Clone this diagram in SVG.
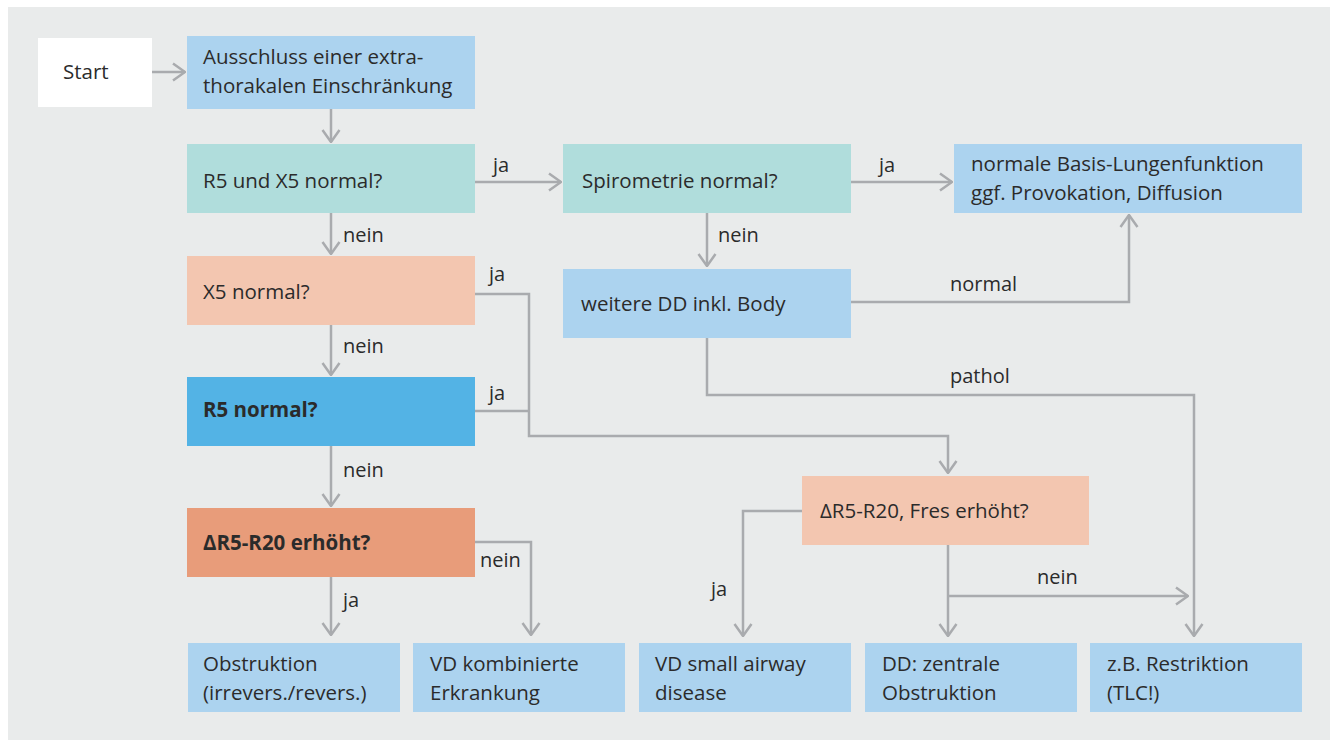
<svg xmlns="http://www.w3.org/2000/svg" width="1330" height="740" viewBox="0 0 1330 740">
<style>
text{font-family:"Open Sans","Noto Sans","Liberation Sans",sans-serif;font-size:20.5px;fill:#2b2b2b}
.lbl{font-size:20px}
.b{font-weight:bold}
.c{fill:none;stroke:#a9abae;stroke-width:2.5}
.blue{fill:#acd3ef}.teal{fill:#b0dddc}.peach{fill:#f3c6b0}.dblue{fill:#53b3e5}.salmon{fill:#e89c7a}.white{fill:#ffffff}
</style>
<defs>
<marker id="ah" markerUnits="userSpaceOnUse" viewBox="0 0 14 20" refX="13" refY="10" markerWidth="14" markerHeight="20" orient="auto">
<path d="M1,1.5 L13,10 L1,18.5" fill="none" stroke="#a9abae" stroke-width="2.5"/>
</marker>
</defs>
<rect x="0" y="0" width="1330" height="740" fill="#ffffff"/>
<rect x="8" y="7" width="1322" height="733" fill="#e9ebeb"/>

<g id="connectors">
<path class="c" d="M152,72 H185" marker-end="url(#ah)"/>
<path class="c" d="M331,109 V142" marker-end="url(#ah)"/>
<path class="c" d="M331,213 V254" marker-end="url(#ah)"/>
<path class="c" d="M331,325 V375" marker-end="url(#ah)"/>
<path class="c" d="M331,446 V506" marker-end="url(#ah)"/>
<path class="c" d="M331,577 V635" marker-end="url(#ah)"/>
<path class="c" d="M475,542 H531 V635" marker-end="url(#ah)"/>
<path class="c" d="M475,182 H561" marker-end="url(#ah)"/>
<path class="c" d="M851,182 H952" marker-end="url(#ah)"/>
<path class="c" d="M707,213 V266" marker-end="url(#ah)"/>
<path class="c" d="M851,302 H1129 V215" marker-end="url(#ah)"/>
<path class="c" d="M707,338 V395 H1194 V636" marker-end="url(#ah)"/>
<path class="c" d="M475,294 H529 V436 H948 V473" marker-end="url(#ah)"/>
<path class="c" d="M475,411 H529"/>
<path class="c" d="M802,511 H743 V636" marker-end="url(#ah)"/>
<path class="c" d="M948,545 V636" marker-end="url(#ah)"/>
<path class="c" d="M948,596 H1188" marker-end="url(#ah)"/>
<text class="lbl" x="493" y="172">ja</text>
<text class="lbl" x="879" y="172">ja</text>
<text class="lbl" x="343" y="242">nein</text>
<text class="lbl" x="718" y="242">nein</text>
<text class="lbl" x="489" y="281">ja</text>
<text class="lbl" x="950" y="291">normal</text>
<text class="lbl" x="343" y="353">nein</text>
<text class="lbl" x="950" y="383">pathol</text>
<text class="lbl" x="489" y="400">ja</text>
<text class="lbl" x="343" y="477">nein</text>
<text class="lbl" x="480" y="567">nein</text>
<text class="lbl" x="343" y="607">ja</text>
<text class="lbl" x="711" y="596">ja</text>
<text class="lbl" x="1037" y="584">nein</text>
</g>

<g id="start"><rect class="white" x="38" y="38" width="114" height="69"/><text x="63" y="79">Start</text></g>
<g id="ausschluss"><rect class="blue" x="187" y="36" width="288" height="73"/><text x="203" y="64">Ausschluss einer extra-</text><text x="203" y="93">thorakalen Einschränkung</text></g>
<g id="r5x5"><rect class="teal" x="187" y="144" width="288" height="69"/><text x="203" y="188">R5 und X5 normal?</text></g>
<g id="x5"><rect class="peach" x="187" y="256" width="288" height="69"/><text x="203" y="299">X5 normal?</text></g>
<g id="r5"><rect class="dblue" x="187" y="377" width="288" height="69"/><text class="b" x="203" y="417">R5 normal?</text></g>
<g id="dr5"><rect class="salmon" x="187" y="508" width="288" height="69"/><text class="b" x="203" y="550">ΔR5-R20 erhöht?</text></g>
<g id="spiro"><rect class="teal" x="563" y="144" width="288" height="69"/><text x="582" y="188">Spirometrie normal?</text></g>
<g id="normale"><rect class="blue" x="954" y="144" width="348" height="69"/><text x="971" y="171">normale Basis-Lungenfunktion</text><text x="971" y="200">ggf. Provokation, Diffusion</text></g>
<g id="weitere"><rect class="blue" x="563" y="269" width="288" height="69"/><text x="581" y="311">weitere DD inkl. Body</text></g>
<g id="fres"><rect class="peach" x="802" y="476" width="287" height="69"/><text x="820" y="518">ΔR5-R20, Fres erhöht?</text></g>
<g id="obstruktion"><rect class="blue" x="188" y="643" width="212" height="69"/><text x="203" y="671">Obstruktion</text><text x="203" y="700">(irrevers./revers.)</text></g>
<g id="kombiniert"><rect class="blue" x="413" y="643" width="212" height="69"/><text x="430" y="671">VD kombinierte</text><text x="430" y="700">Erkrankung</text></g>
<g id="smallairway"><rect class="blue" x="639" y="643" width="212" height="69"/><text x="655" y="671">VD small airway</text><text x="655" y="700">disease</text></g>
<g id="zentrale"><rect class="blue" x="865" y="643" width="212" height="69"/><text x="882" y="671">DD: zentrale</text><text x="882" y="700">Obstruktion</text></g>
<g id="restriktion"><rect class="blue" x="1090" y="643" width="212" height="69"/><text x="1107" y="671">z.B. Restriktion</text><text x="1107" y="700">(TLC!)</text></g>
</svg>
